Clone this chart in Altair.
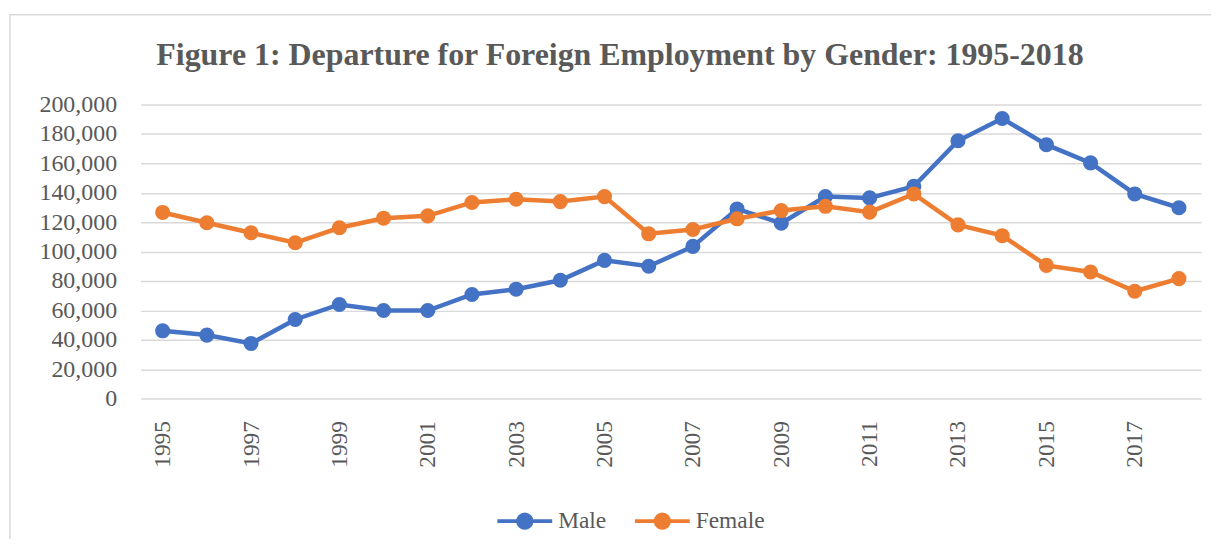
import altair as alt
import pandas as pd

years = list(range(1995, 2019))
male = [46100, 43200, 37500, 53800, 64000, 59900, 59900, 70800, 74400, 80500,
        94000, 90000, 103500, 129000, 119300, 137400, 136500, 144400, 175400,
        190500, 172700, 160300, 139200, 129800]
female = [126600, 119600, 112800, 106000, 116200, 122700, 124300, 133400, 135600,
          134000, 137400, 112100, 115000, 122300, 127900, 130800, 126800, 139200,
          118200, 110800, 90600, 86100, 73000, 81600]
series_names = ["Male", "Female"]
series_colors = ["#4472C4", "#ED7D31"]
y_ticks = list(range(0, 200001, 20000))
x_label_years = list(range(1995, 2019, 2))
title_text = "Figure 1: Departure for Foreign Employment by Gender: 1995-2018"

rows = []
for name, vals in zip(series_names, [male, female]):
    for yr, v in zip(years, vals):
        rows.append({"year": yr, "series": name, "value": v})
df = pd.DataFrame(rows)

FONT = "Liberation Serif"
GRAY = "#595959"
W, H = 1064, 295

color = alt.Color(
    "series:N",
    scale=alt.Scale(domain=series_names, range=series_colors),
    sort=series_names,
    legend=alt.Legend(
        title=None,
        orient="none",
        direction="horizontal",
        legendX=356,
        legendY=388,
        padding=0,
        labelFont=FONT,
        labelFontSize=23.5,
        labelColor=GRAY,
        labelOffset=4,
        columnPadding=20,
        symbolType="M-1,0L1,0M0.24,0A0.24,0.24,0,1,1,-0.24,0A0.24,0.24,0,1,1,0.24,0Z",
        symbolSize=3025,
        symbolStrokeWidth=4,
        symbolOpacity=1,
    ),
)

x = alt.X(
    "year:O",
    scale=alt.Scale(padding=0.5),
    axis=alt.Axis(
        title=None,
        values=x_label_years,
        labelAngle=270,
        labelFont=FONT,
        labelFontSize=23.5,
        labelColor=GRAY,
        labelPadding=22,
        ticks=False,
        domain=False,
        grid=False,
    ),
)
y = alt.Y(
    "value:Q",
    scale=alt.Scale(domain=[0, 200000], nice=False),
    axis=alt.Axis(
        title=None,
        values=y_ticks,
        format=",.0f",
        labelFont=FONT,
        labelFontSize=24,
        labelColor=GRAY,
        labelPadding=24,
        ticks=False,
        domain=False,
        grid=True,
        gridColor="#d9d9d9",
        gridWidth=1.5,
    ),
)

base = alt.Chart(df)
layers = []
for name in series_names:
    sub = base.transform_filter(alt.datum.series == name)
    layers.append(sub.mark_line(strokeWidth=4.5).encode(x=x, y=y, color=color))
    layers.append(sub.mark_point(filled=True, size=230, opacity=1).encode(x=x, y=y, color=color))

deco = pd.DataFrame({"t": [title_text]})
border = alt.Chart(deco).mark_rect(fillOpacity=0, stroke="#d9d9d9", strokeWidth=1.5).encode(
    x=alt.value(-131), x2=alt.value(W + 200), y=alt.value(-90), y2=alt.value(H + 300)
)
title = alt.Chart(deco).mark_text(
    font=FONT, fontSize=32, fontWeight="bold", color=GRAY, align="center", baseline="alphabetic"
).encode(text="t:N", x=alt.value(481), y=alt.value(-40))

chart = alt.layer(border, *layers, title).properties(
    width=W,
    height=H,
    autosize=alt.AutoSizeParams(type="none"),
    padding={"left": 133, "top": 96, "right": 10, "bottom": 140},
).configure_view(stroke=None)

chart.save("out.html", embed_options={"renderer": "svg", "actions": False})
